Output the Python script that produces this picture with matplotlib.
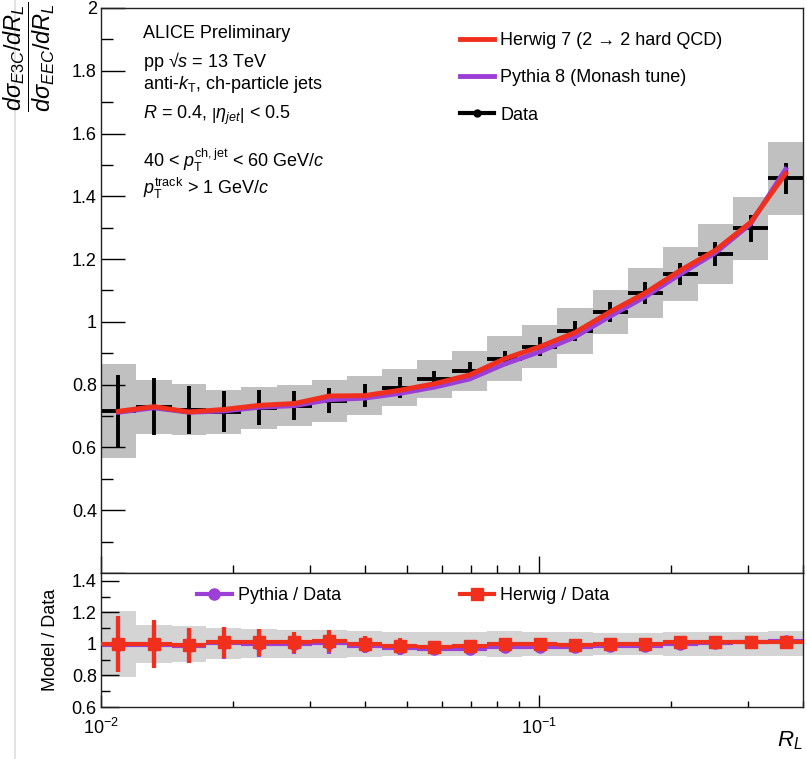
import matplotlib
matplotlib.use('Agg')
import matplotlib.pyplot as plt
import numpy as np
from matplotlib.lines import Line2D
from matplotlib.ticker import MultipleLocator, FuncFormatter, NullFormatter, LogLocator

plt.rcParams['font.family'] = ['Liberation Sans', 'DejaVu Sans']
plt.rcParams['mathtext.fontset'] = 'custom'
plt.rcParams['mathtext.rm'] = 'Liberation Sans'
plt.rcParams['mathtext.it'] = 'Liberation Sans:italic'
plt.rcParams['mathtext.bf'] = 'Liberation Sans:bold'
plt.rcParams['mathtext.sf'] = 'Liberation Sans'

# R_L binning (20 log bins, 0.01 - 0.4)
bin_edges = [0.0100, 0.0120, 0.0145, 0.0174, 0.0209, 0.0252, 0.0303, 0.0364,
             0.0438, 0.0526, 0.0632, 0.0761, 0.0915, 0.1100, 0.1323, 0.1591,
             0.1913, 0.2301, 0.2767, 0.3327, 0.4000]

data = [0.715, 0.730, 0.720, 0.714, 0.727, 0.733, 0.749, 0.765, 0.790, 0.819,
        0.844, 0.883, 0.921, 0.971, 1.032, 1.092, 1.152, 1.216, 1.298, 1.457]
stat_err = [0.117, 0.092, 0.076, 0.065, 0.056, 0.046, 0.040, 0.036, 0.033, 0.026,
            0.027, 0.024, 0.030, 0.032, 0.032, 0.035, 0.035, 0.038, 0.043, 0.050]
sys_err = [0.150, 0.086, 0.082, 0.070, 0.067, 0.065, 0.067, 0.062, 0.059, 0.061,
           0.063, 0.071, 0.068, 0.074, 0.071, 0.079, 0.087, 0.095, 0.100, 0.115]

herwig = [0.715, 0.730, 0.713, 0.721, 0.734, 0.740, 0.764, 0.765, 0.782, 0.803,
          0.831, 0.883, 0.921, 0.966, 1.032, 1.092, 1.164, 1.228, 1.317, 1.472]
pythia = [0.712, 0.726, 0.712, 0.716, 0.728, 0.733, 0.752, 0.757, 0.772, 0.792,
          0.818, 0.866, 0.905, 0.952, 1.018, 1.080, 1.152, 1.220, 1.312, 1.486]
ratio_err = [0.175, 0.150, 0.110, 0.100, 0.085, 0.065, 0.070, 0.050, 0.045, 0.035,
             0.033, 0.030, 0.030, 0.030, 0.030, 0.030, 0.030, 0.030, 0.030, 0.030]

RED = '#f0301c'
PURPLE = '#9b3fd6'
GRAY = '#c0c0c0'

lo = np.array(bin_edges[:-1])
hi = np.array(bin_edges[1:])
centers = np.sqrt(lo * hi)
xerr = [centers - lo, hi - centers]
d = np.array(data)
s = np.array(sys_err)
rel_sys = s / d
herwig_ratio = np.array(herwig) / d
pythia_ratio = np.array(pythia) / d

fig = plt.figure(figsize=(8.07, 7.59), dpi=100)
ax = fig.add_axes([0.1252, 0.2451, 0.870, 0.7444])
rax = fig.add_axes([0.1252, 0.0685, 0.870, 0.1766])

# upper panel
ax.bar(lo, 2 * s, bottom=d - s, width=hi - lo, align='edge', color=GRAY, lw=0, zorder=1)
ax.errorbar(centers, d, xerr=xerr, yerr=stat_err, fmt='none', ecolor='black',
            elinewidth=2.8, capsize=0, zorder=2)
ax.plot(centers, pythia, color=PURPLE, lw=3.5, zorder=3)
ax.plot(centers, herwig, color=RED, lw=3.5, zorder=4)

ax.set_xscale('log')
ax.set_xlim(0.01, 0.4)
ax.set_ylim(0.2, 2.0)
ax.yaxis.set_major_locator(MultipleLocator(0.2))
ax.yaxis.set_minor_locator(MultipleLocator(0.1))
ax.yaxis.set_major_formatter(FuncFormatter(lambda v, p: '' if v < 0.3 else '%g' % round(v, 2)))
ax.xaxis.set_major_locator(LogLocator(base=10))
ax.xaxis.set_minor_locator(LogLocator(base=10, subs=np.arange(2, 10)))
ax.xaxis.set_minor_formatter(NullFormatter())
ax.tick_params(axis='y', which='major', direction='in', length=17, width=1, labelsize=13, pad=3)
ax.tick_params(axis='y', which='minor', direction='in', length=8.5, width=1)
ax.tick_params(axis='x', which='major', direction='in', length=12, width=1, labelbottom=False)
ax.tick_params(axis='x', which='minor', direction='in', length=6, width=1)

handles = [Line2D([], [], color=RED, lw=3.5),
           Line2D([], [], color=PURPLE, lw=3.5),
           Line2D([], [], color='black', lw=3, marker='o', ms=5)]
labels = ['Herwig 7 (2 \u2192 2 hard QCD)', 'Pythia 8 (Monash tune)', 'Data']
ax.legend(handles, labels, loc='upper left', bbox_to_anchor=(0.511, 0.957), frameon=False,
          fontsize=13, handlelength=1.9, handletextpad=0.35, labelspacing=1.12,
          borderpad=0, borderaxespad=0)

info = [('ALICE Preliminary', 0.947),
        ('pp \u221a$s$ = 13 TeV', 0.896),
        (r'anti-$k_{\mathrm{T}}$, ch-particle jets', 0.856),
        (r'$R$ = 0.4, $\left|\eta_{jet}\right|$ < 0.5', 0.804),
        (r'40 < $p_{\mathrm{T}}^{\mathrm{ch,jet}}$ < 60 GeV/$c$', 0.719),
        (r'$p_{\mathrm{T}}^{\mathrm{track}}$ > 1 GeV/$c$', 0.671)]
for txt, yy in info:
    ax.text(0.06, yy, txt, transform=ax.transAxes, fontsize=13, va='baseline', ha='left')

# ratio panel
rax.bar(lo, 2 * rel_sys, bottom=1 - rel_sys, width=hi - lo, align='edge',
        color='#d4d4d4', lw=0, zorder=1)
rax.errorbar(centers, pythia_ratio, xerr=xerr, yerr=ratio_err, fmt='o', color=PURPLE,
             ms=8, elinewidth=3, capsize=0, zorder=2)
rax.errorbar(centers, herwig_ratio, xerr=xerr, yerr=ratio_err, fmt='s', color=RED,
             ms=8, elinewidth=3, capsize=0, zorder=3)

rax.set_xscale('log')
rax.set_xlim(0.01, 0.4)
rax.set_ylim(0.6, 1.45)
rax.yaxis.set_major_locator(MultipleLocator(0.2))
rax.yaxis.set_minor_locator(MultipleLocator(0.1))
rax.yaxis.set_major_formatter(FuncFormatter(lambda v, p: '%g' % round(v, 2)))
rax.xaxis.set_major_locator(LogLocator(base=10))
rax.xaxis.set_minor_locator(LogLocator(base=10, subs=np.arange(2, 10)))
rax.xaxis.set_minor_formatter(NullFormatter())
rax.tick_params(axis='y', which='major', direction='in', length=13, width=1, labelsize=13, pad=3)
rax.tick_params(axis='y', which='minor', direction='in', length=6.5, width=1)
rax.tick_params(axis='x', which='major', direction='in', length=9, width=1, labelsize=13, pad=8)
rax.tick_params(axis='x', which='minor', direction='in', length=4, width=1)

leg1 = rax.legend([Line2D([], [], color=PURPLE, lw=3, marker='o', ms=8)], ['Pythia / Data'],
                  loc='center left', bbox_to_anchor=(0.137, 0.83), frameon=False, fontsize=13,
                  handlelength=1.9, handletextpad=0.35, borderpad=0, borderaxespad=0)
rax.add_artist(leg1)
rax.legend([Line2D([], [], color=RED, lw=3, marker='s', ms=8)], ['Herwig / Data'],
           loc='center left', bbox_to_anchor=(0.511, 0.83), frameon=False, fontsize=13,
           handlelength=1.9, handletextpad=0.35, borderpad=0, borderaxespad=0)

for a in (ax, rax):
    for sp in a.spines.values():
        sp.set_linewidth(1.0)
        sp.set_color('#222222')

fig.text(0.037, 0.998, r'$\dfrac{d\sigma_{E3C}/dR_{L}}{d\sigma_{EEC}/dR_{L}}$', rotation=90,
         ha='center', va='top', fontsize=17)
fig.text(0.062, 0.157, 'Model / Data', rotation=90, ha='center', va='center', fontsize=13)
fig.text(0.995, 0.0237, r'$R_{L}$', ha='right', va='center', fontsize=16)
fig.add_artist(Line2D([15 / 807, 15 / 807], [0, 1], color='#dddddd', lw=1.2))

fig.savefig('out.png', dpi=100)
